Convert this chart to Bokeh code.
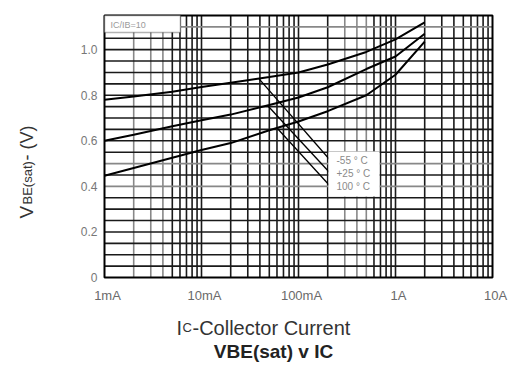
import numpy as np
from bokeh.plotting import figure
from bokeh.models import Range1d, Label, BoxAnnotation
from bokeh.core.properties import value
from bokeh.embed import file_html
from bokeh.resources import INLINE

# ---- data ----
current_A = [0.001, 0.002, 0.005, 0.01, 0.02, 0.05, 0.1, 0.2, 0.5, 1.0, 2.0]
vbe_m55 = [0.78, 0.794, 0.815, 0.836, 0.855, 0.88, 0.90, 0.935, 0.99, 1.045, 1.12]
vbe_25 = [0.60, 0.627, 0.664, 0.69, 0.715, 0.757, 0.79, 0.835, 0.915, 0.97, 1.07]
vbe_100 = [0.447, 0.481, 0.526, 0.56, 0.59, 0.646, 0.685, 0.73, 0.80, 0.89, 1.035]

x_ticks = [0.001, 0.01, 0.1, 1.0, 10.0]
x_tick_labels = ["1mA", "10mA", "100mA", "1A", "10A"]
y_ticks = [0.0, 0.2, 0.4, 0.6, 0.8, 1.0]
y_tick_labels = ["0", "0.2", "0.4", "0.6", "0.8", "1.0"]

temp_labels = ["-55 ° C", "+25 ° C", "100 ° C"]
leader_start_A = [0.039, 0.048, 0.060]
ratio_text = "IC/IB=10"

# ---- geometry (page pixels of the chart area) ----
W, H = 509, 367
PL, PR, PT, PB = 104, 492, 15, 277
XMIN, XMAX, YMIN, YMAX = 1e-3, 10.0, 0.0, 1.15
DEC = (PR - PL) / np.log10(XMAX / XMIN)
VPX = (PB - PT) / (YMAX - YMIN)


def dx(px):
    return XMIN * 10 ** ((px - PL) / DEC)


def dy(py):
    return YMIN + (PB - py) / VPX


p = figure(width=W, height=H, x_axis_type="log",
           x_range=Range1d(dx(0), dx(W)), y_range=Range1d(dy(H), dy(0)),
           x_axis_location=None, y_axis_location=None,
           output_backend="svg", toolbar_location=None,
           min_border=0)
p.min_border_left = p.min_border_right = p.min_border_top = p.min_border_bottom = 0
p.outline_line_color = None
p.background_fill_color = "white"
p.border_fill_color = "white"
p.grid.grid_line_color = None

FONT = "Liberation Sans"

# ---- grid lines ----
grid_x = [k * 10.0 ** e for e in range(-3, 1) for k in range(1, 10)][1:]
gray_x = [0.002, 0.003, 0.004, 0.3, 0.4, 0.5]
grid_y = [round(0.05 * i, 2) for i in range(1, 23)]
gray_y = [0.4, 0.5, 1.1]
BLACK, GRAY = "#1a1a1a", "#888888"
cx = [GRAY if any(abs(v - g) < 1e-9 for g in gray_x) else BLACK for v in grid_x]
cy = [GRAY if v in gray_y else BLACK for v in grid_y]
p.segment(x0=grid_x, y0=[YMIN] * len(grid_x), x1=grid_x, y1=[YMAX] * len(grid_x),
          line_color=cx, line_width=1.6)
p.segment(x0=[XMIN] * len(grid_y), y0=grid_y, x1=[XMAX] * len(grid_y), y1=grid_y,
          line_color=cy, line_width=1.6)
# chart frame
p.quad(left=[XMIN], right=[XMAX], bottom=[YMIN], top=[YMAX],
       fill_color=None, line_color="black", line_width=2)

# ---- tick labels ----
p.text(x=x_ticks, y=[YMIN] * len(x_ticks), text=x_tick_labels,
       x_offset=3, y_offset=10, text_align="center", text_baseline="top",
       text_font=value(FONT), text_font_size="13px", text_color="#6a6a6a")
p.text(x=[XMIN] * len(y_ticks), y=y_ticks, text=y_tick_labels,
       x_offset=-7, y_offset=0, text_align="right", text_baseline="middle",
       text_font=value(FONT), text_font_size="12px", text_color="#777777")

# ---- curves ----
for vals in (vbe_m55, vbe_25, vbe_100):
    p.line(current_A, vals, line_color="black", line_width=2)

# leader lines from curves to the temperature labels
row_py = [160, 173, 186]
end_x = dx(330)
lx = np.log10(current_A)
for sx, vals, ry in zip(leader_start_A, (vbe_m55, vbe_25, vbe_100), row_py):
    sy = float(np.interp(np.log10(sx), lx, vals))
    p.line([sx, end_x], [sy, dy(ry)], line_color="black", line_width=1.3)

# ---- boxes ----
p.add_layout(BoxAnnotation(left=dx(328), right=dx(379), top=dy(151), bottom=dy(196),
                           fill_color="white", fill_alpha=1.0,
                           line_color="#cccccc", line_width=1))
p.add_layout(BoxAnnotation(left=XMIN, right=dx(180), top=YMAX, bottom=dy(32),
                           fill_color="white", fill_alpha=1.0,
                           line_color="black", line_width=1.6))

p.add_layout(Label(x=dx(110), y=dy(24), text=ratio_text, text_font=FONT,
                   text_font_size="9px", text_color="#9a9a9a", text_baseline="middle"))
for t, ry in zip(temp_labels, row_py):
    p.add_layout(Label(x=dx(336), y=dy(ry), text=t, text_font=FONT,
                       text_font_size="10px", text_color="#8a8a8a", text_baseline="middle"))

# ---- x axis title: I + small C + rest ----
base = dy(327)
p.add_layout(Label(x=dx(176), y=base, text="I", text_font=FONT,
                   text_font_size="20px", text_color="#333333", text_baseline="alphabetic"))
p.add_layout(Label(x=dx(182), y=base, text="C", text_font=FONT,
                   text_font_size="13px", text_color="#333333", text_baseline="alphabetic"))
p.add_layout(Label(x=dx(192), y=base, text="-Collector Current", text_font=FONT,
                   text_font_size="20px", text_color="#333333", text_baseline="alphabetic"))

# ---- chart title ----
p.add_layout(Label(x=dx(273), y=dy(351), text="VBE(sat) v IC", text_font=FONT,
                   text_font_size="19px", text_font_style="bold", text_color="#222222",
                   text_align="center", text_baseline="middle"))

# ---- y axis title, rotated: V + small BE(sat) + " - (V)" ----
ang = np.pi / 2
p.add_layout(Label(x=dx(26), y=dy(218), text="V", text_font=FONT,
                   text_font_size="19px", text_color="#333333", angle=ang,
                   text_baseline="alphabetic"))
p.add_layout(Label(x=dx(27), y=dy(204), text="BE(sat)", text_font=FONT,
                   text_font_size="13px", text_color="#333333", angle=ang,
                   text_baseline="alphabetic"))
p.add_layout(Label(x=dx(26), y=dy(160), text=" - (V)", text_font=FONT,
                   text_font_size="18px", text_color="#333333", angle=ang,
                   text_baseline="alphabetic"))

open("out.html", "w").write(file_html(p, INLINE))
